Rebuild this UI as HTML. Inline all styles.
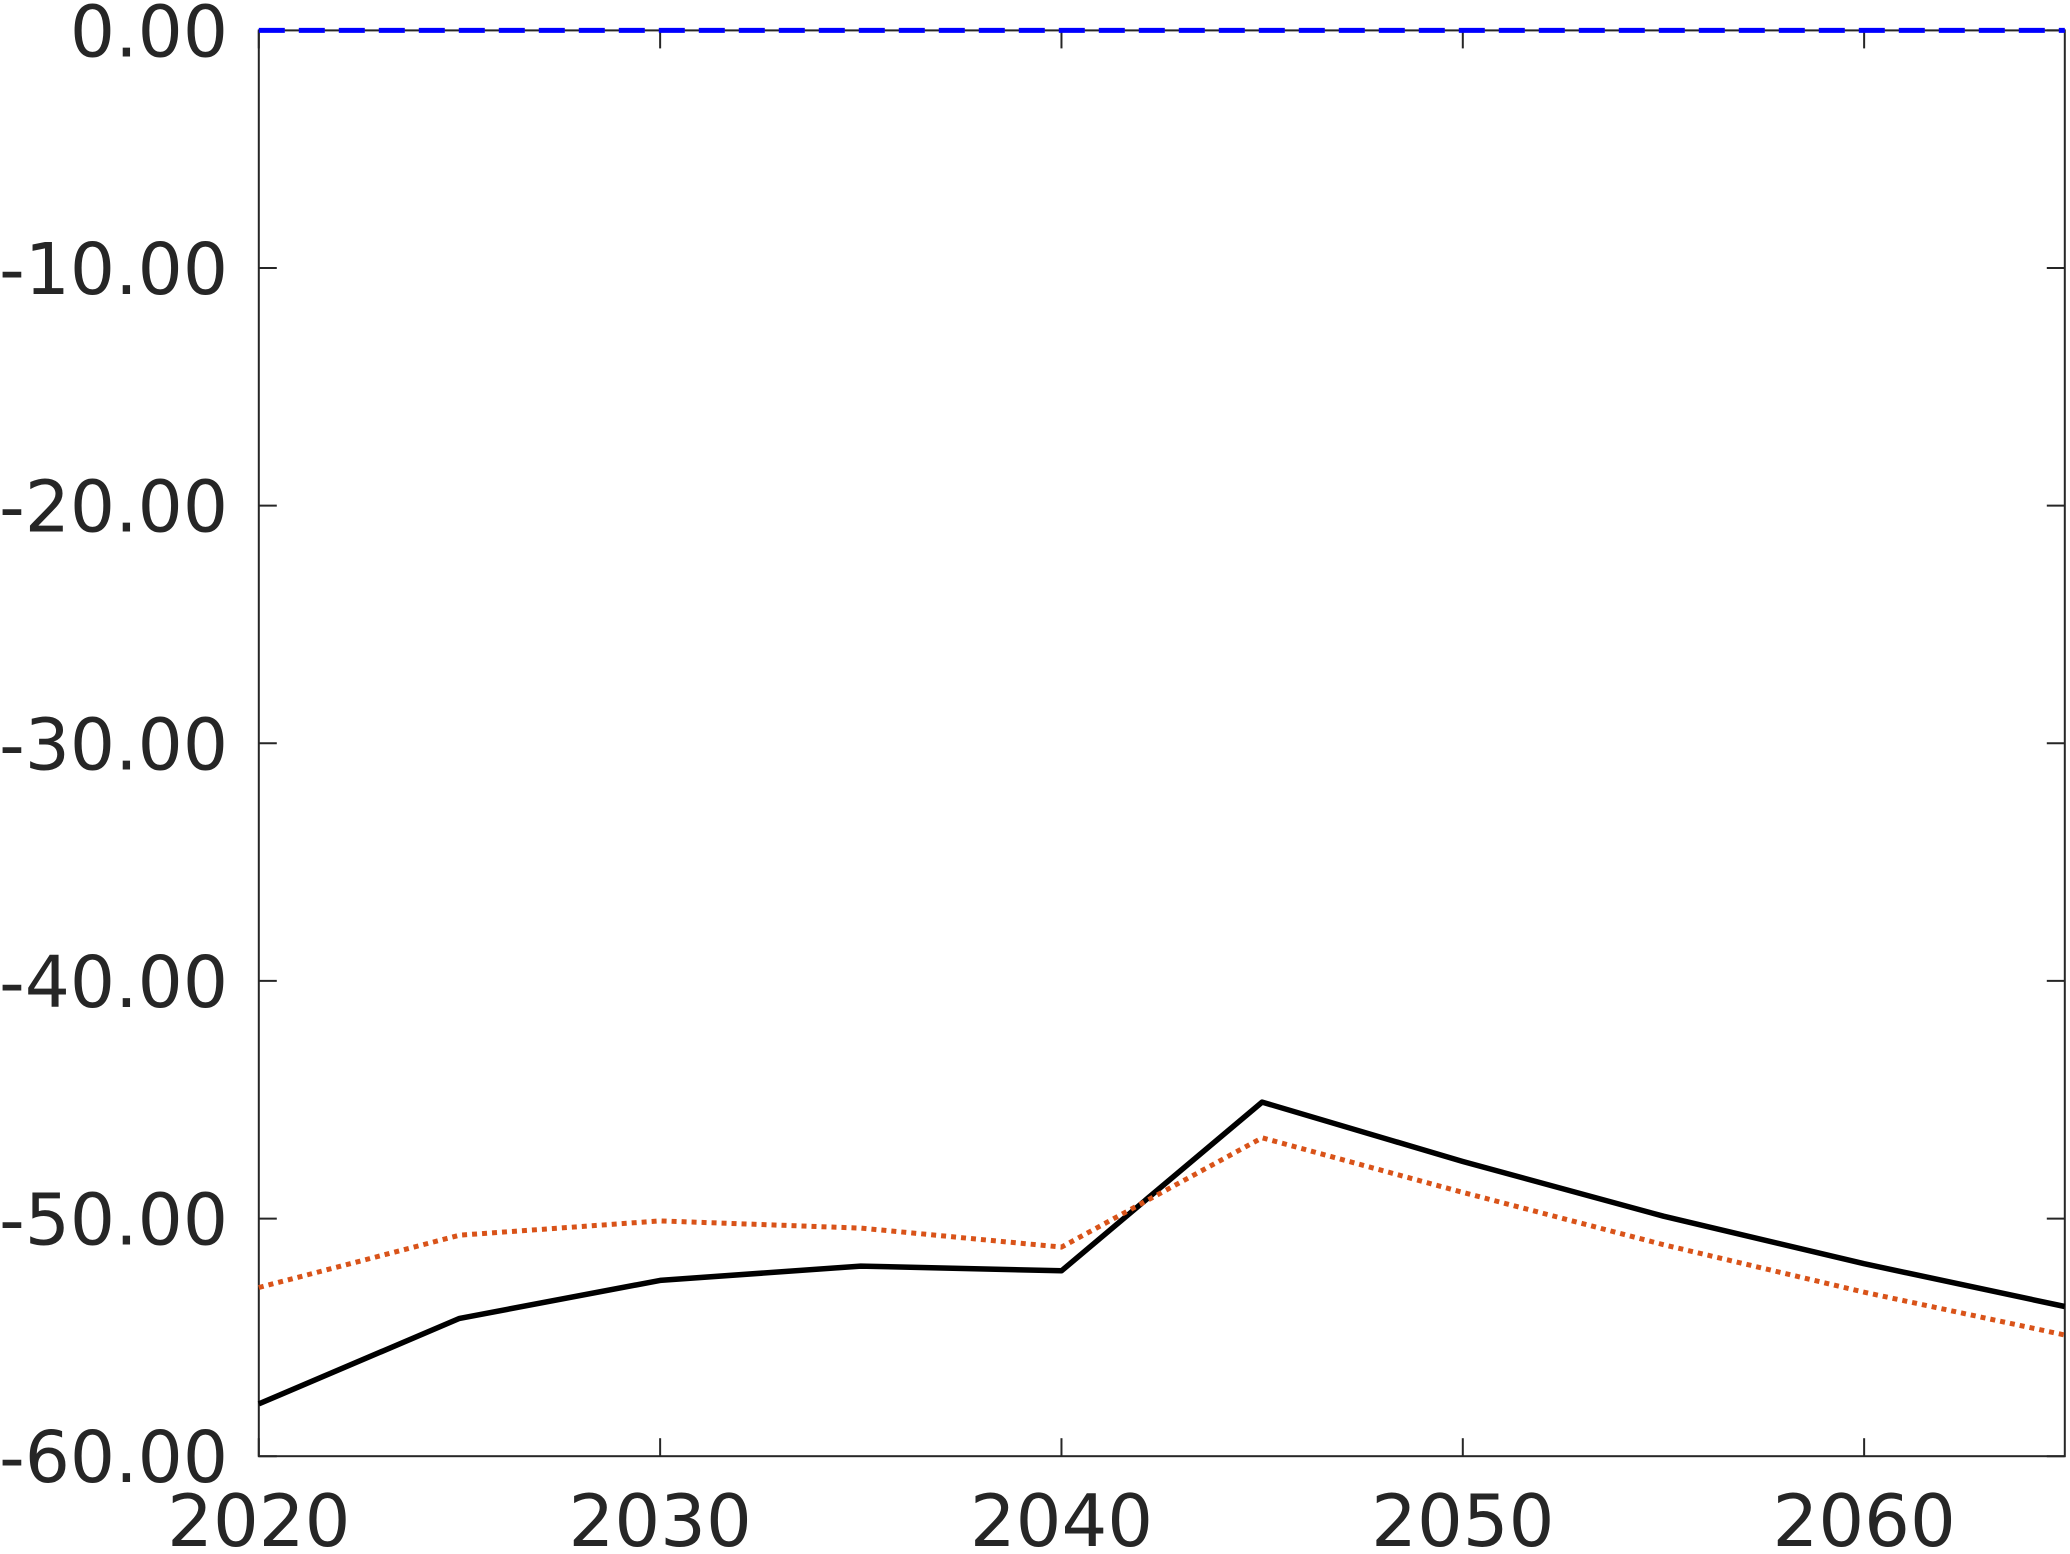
<!DOCTYPE html>
<html><head><meta charset="utf-8">
<style>
html,body{margin:0;padding:0;background:#fff;}
svg{display:block;}
text{font-family:"DejaVu Sans","Liberation Sans",sans-serif;fill:#262626;}
</style></head>
<body>
<svg id="chart" width="2070" height="1554" viewBox="0 0 2070 1554" xmlns="http://www.w3.org/2000/svg"></svg>
<script>
const years = [2020,2025,2030,2035,2040,2045,2050,2055,2060,2065];
const seriesBlack = [-57.8,-54.2,-52.6,-52.0,-52.2,-45.1,-47.6,-49.9,-51.9,-53.7];
const seriesOrange = [-52.9,-50.7,-50.1,-50.4,-51.2,-46.6,-48.9,-51.1,-53.1,-54.9];
const seriesBlue = [0,0,0,0,0,0,0,0,0,0];
const xTicks = [2020,2030,2040,2050,2060];
const yTicks = [0,-10,-20,-30,-40,-50,-60];

const NS='http://www.w3.org/2000/svg';
const svg=document.getElementById('chart');
const L=258.8,R=2064.8,T=30.4,B=1456.2;
const xMin=2020,xMax=2065,yMin=-60,yMax=0;
function sx(v){return L+(v-xMin)/(xMax-xMin)*(R-L);}
function sy(v){return B-(v-yMin)/(yMax-yMin)*(B-T);}
function mk(tag,attrs){const e=document.createElementNS(NS,tag);for(const k in attrs)e.setAttribute(k,attrs[k]);svg.appendChild(e);return e;}

const box=mk('rect',{x:L,y:T,width:R-L,height:B-T,fill:'none',stroke:'#262626','stroke-width':2});



xTicks.forEach(t=>{
  const x=sx(t);
  const a=mk('line',{x1:x,x2:x,y1:B,y2:B-18,stroke:'#262626','stroke-width':2});
  
  
  const b=mk('line',{x1:x,x2:x,y1:T,y2:T+18,stroke:'#262626','stroke-width':2});
  
  
  const tx=mk('text',{x:x,y:1546,'font-size':72,'text-anchor':'middle'});
  tx.textContent=t;
  
  
});
yTicks.forEach(t=>{
  const y=sy(t);
  const a=mk('line',{x1:L,x2:L+18,y1:y,y2:y,stroke:'#262626','stroke-width':2});
  
  
  const b=mk('line',{x1:R,x2:R-18,y1:y,y2:y,stroke:'#262626','stroke-width':2});
  
  
  const tx=mk('text',{x:228,y:y+26,'font-size':71,'text-anchor':'end'});
  tx.textContent=t.toFixed(2);
  
  
});

function line(vals,color,dash,name,w){
  const pts=vals.map((v,i)=>sx(years[i]).toFixed(1)+','+sy(v).toFixed(1)).join(' ');
  const p=mk('polyline',{points:pts,fill:'none',stroke:color,'stroke-width':w,'stroke-dasharray':dash,'stroke-linejoin':'round'});
  
  
}
line(seriesBlack,'#000000','none','black-solid-series',5.5);
line(seriesOrange,'#d95319','5 5','orange-dotted-series',5);
line(seriesBlue,'#0000ff','26 14','blue-dashed-series',5);
</script>
</body></html>
